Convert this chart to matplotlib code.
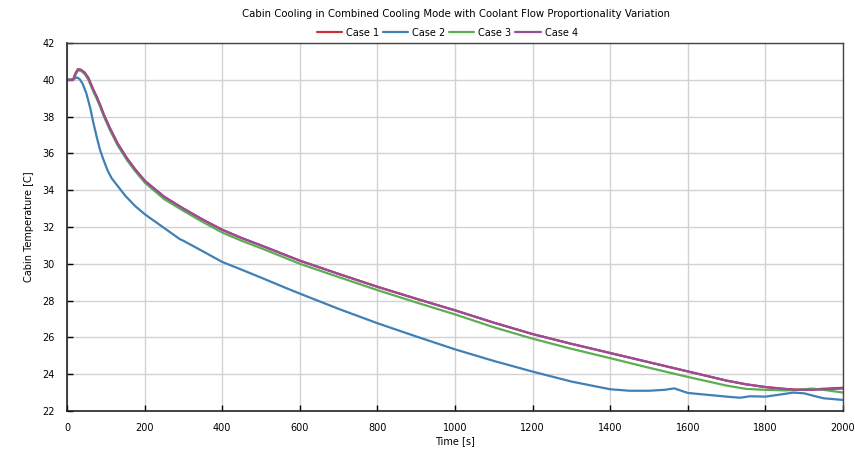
import matplotlib
matplotlib.use("Agg")
import matplotlib.pyplot as plt

# Cabin temperature [C] over time [s] for each coolant flow split case
t_case4 = [0, 10, 16, 22, 28, 35, 45, 55, 68, 77, 85, 95, 111, 130, 154, 175, 201,
           250, 300, 350, 400, 450, 500, 600, 700, 800, 900, 1000, 1100, 1200, 1300,
           1400, 1500, 1600, 1700, 1750, 1800, 1850, 1880, 1920, 1950, 2000]
temp_case4 = [40.0, 40.0, 40.02, 40.35, 40.57, 40.55, 40.4, 40.1, 39.45, 39.05, 38.65,
              38.1, 37.35, 36.55, 35.75, 35.15, 34.5, 33.65, 33.0, 32.4, 31.85, 31.4,
              31.0, 30.17, 29.45, 28.75, 28.1, 27.47, 26.8, 26.18, 25.65, 25.15, 24.65,
              24.15, 23.65, 23.45, 23.3, 23.2, 23.15, 23.15, 23.18, 23.22]

t_case1 = t_case4
temp_case1 = [40.0, 40.0, 40.02, 40.35, 40.57, 40.55, 40.4, 40.1, 39.45, 39.05, 38.65,
              38.1, 37.35, 36.55, 35.75, 35.15, 34.5, 33.65, 33.0, 32.4, 31.85, 31.4,
              31.0, 30.17, 29.45, 28.75, 28.1, 27.47, 26.8, 26.18, 25.65, 25.15, 24.65,
              24.15, 23.65, 23.45, 23.3, 23.2, 23.16, 23.17, 23.21, 23.26]

t_case3 = t_case4
temp_case3 = [40.0, 40.0, 40.0, 40.3, 40.5, 40.5, 40.33, 40.0, 39.35, 38.95, 38.55,
              38.0, 37.25, 36.45, 35.65, 35.05, 34.4, 33.52, 32.88, 32.27, 31.7, 31.25,
              30.85, 30.0, 29.28, 28.57, 27.9, 27.25, 26.55, 25.93, 25.38, 24.87, 24.35,
              23.85, 23.38, 23.2, 23.15, 23.12, 23.14, 23.22, 23.15, 23.0]

t_case2 = [0, 10, 16, 20, 25, 32, 40, 50, 60, 68, 77, 85, 94, 105, 115, 128, 150, 175,
           200, 250, 290, 300, 350, 400, 450, 500, 566, 600, 700, 800, 900, 1000, 1100,
           1200, 1300, 1400, 1450, 1500, 1540, 1565, 1600, 1650, 1700, 1735, 1760, 1800,
           1840, 1872, 1900, 1925, 1950, 2000]
temp_case2 = [40.0, 40.0, 40.0, 40.08, 40.13, 40.05, 39.8, 39.25, 38.45, 37.65, 36.85,
              36.2, 35.65, 35.05, 34.65, 34.3, 33.7, 33.15, 32.7, 31.95, 31.35, 31.25,
              30.68, 30.1, 29.68, 29.25, 28.67, 28.38, 27.55, 26.77, 26.05, 25.35, 24.72,
              24.14, 23.6, 23.18, 23.1, 23.1, 23.15, 23.23, 22.98, 22.88, 22.78, 22.72,
              22.8, 22.78, 22.9, 23.0, 22.96, 22.82, 22.69, 22.6]

case_labels = ["Case 1", "Case 2", "Case 3", "Case 4"]
case_colors = ["#c8323a", "#4080b4", "#5cae52", "#9a4c98"]

x_ticks = list(range(0, 2001, 200))
y_ticks = list(range(22, 43, 2))

fig = plt.figure(figsize=(8.55, 4.5), dpi=100)
ax = fig.add_axes([0.0784, 0.0867, 0.9076, 0.8177])

series = [(t_case1, temp_case1), (t_case2, temp_case2),
          (t_case3, temp_case3), (t_case4, temp_case4)]
for (t, temp), lab, col in zip(series, case_labels, case_colors):
    ax.plot(t, temp, color=col, lw=1.6, label=lab, solid_capstyle="round")

ax.set_xlim(0, 2000)
ax.set_ylim(22, 42)
ax.set_xticks(x_ticks)
ax.set_yticks(y_ticks)
ax.grid(True, color="#d2d2d2", lw=1.0)
ax.set_axisbelow(True)
ax.tick_params(direction="in", length=4, width=1, labelsize=7, colors="black",
               top=False, right=False)
ax.tick_params(axis="x", pad=9)
ax.tick_params(axis="y", pad=9)
for side in ["left", "bottom"]:
    ax.spines[side].set_color("#222222")
    ax.spines[side].set_linewidth(1.2)
for side in ["top", "right"]:
    ax.spines[side].set_color("#444444")
    ax.spines[side].set_linewidth(1.0)

ax.set_xlabel("Time [s]", fontsize=7, labelpad=2)
ax.set_ylabel("Cabin Temperature [C]", fontsize=7, labelpad=6)

fig.text(0.533, 0.968, "Cabin Cooling in Combined Cooling Mode with Coolant Flow "
         "Proportionality Variation", ha="center", va="center", fontsize=7.3)
fig.legend(loc="center", bbox_to_anchor=(0.523, 0.927), ncol=4, frameon=False,
           fontsize=7, handlelength=2.6, handletextpad=0.4, columnspacing=0.4,
           borderaxespad=0)

fig.savefig("out.png", dpi=100)
